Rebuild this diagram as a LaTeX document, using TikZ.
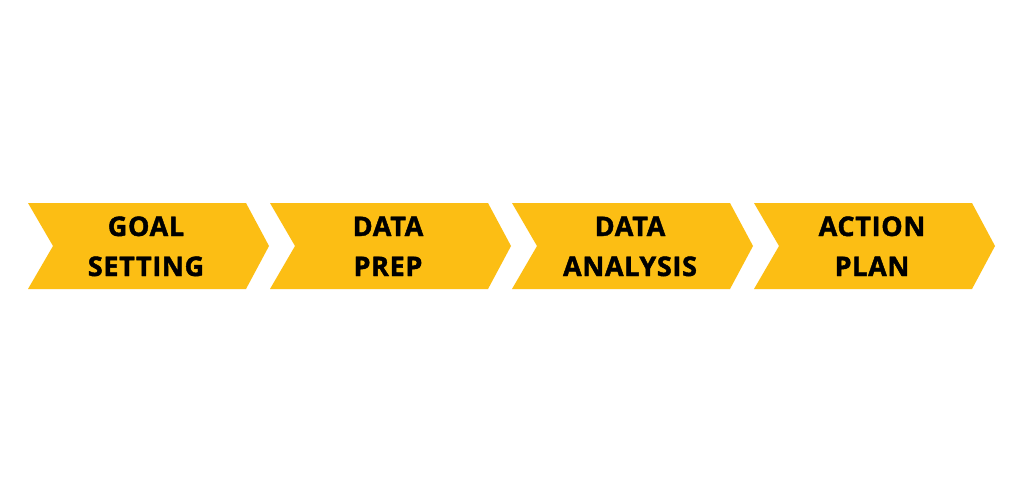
\documentclass[tikz,border=0pt]{standalone}
\usepackage{fontspec}
\setmainfont{Open Sans}
\newfontfamily\xbold[FakeBold=1.6,LetterSpace=2.5]{Open Sans Bold}
\definecolor{chev}{RGB}{252,190,20}
\begin{document}
\begin{tikzpicture}[x=1pt,y=-1pt,
  chevlabel/.style={font=\xbold\fontsize{27}{39}\selectfont, align=center, text=black, inner sep=0pt}]
\useasboundingbox (0,0) rectangle (1024,493);
\fill[white] (0,0) rectangle (1024,493);
\foreach \i/\a/\b in {0/GOAL/SETTING, 1/DATA/PREP, 2/DATA/ANALYSIS, 3/ACTION/PLAN}{
  \pgfmathsetmacro{\L}{28+242*\i}
  \fill[chev] (\L,203) -- (\L+218,203) -- (\L+241,246) -- (\L+218,289) -- (\L,289) -- (\L+25,246) -- cycle;
  \node[chevlabel, anchor=base] (t\i a) at (\L+118,236) {\a};
  \node[chevlabel, anchor=base] (t\i b) at (\L+118,276) {\b};
}
\end{tikzpicture}
\end{document}
